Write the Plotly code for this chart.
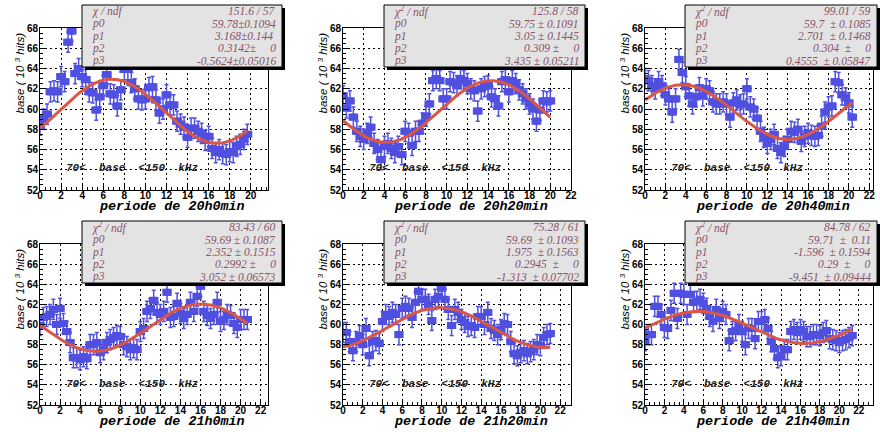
import numpy as np
import plotly.graph_objects as go

# ---------------- data ----------------
X_STEP = 1.0 / 3.0   # spacing of the time bins along "periode"

base_20h00 = [58.4, 59.0, 59.5, 61.7, 61.8, 61.7, 63.2, 62.7, 66.6, 67.7,
              63.5, 64.0, 63.2, 62.9, 61.7, 61.6, 59.9, 61.2, 62.3, 63.4,
              61.5, 61.4, 60.3, 61.9, 63.9, 63.9, 62.6, 62.0, 61.0, 60.9,
              61.0, 62.1, 62.2, 60.9, 59.6, 60.0, 61.4, 60.4, 60.4, 58.8,
              58.5, 58.2, 57.2, 58.1, 58.1, 57.8, 57.6, 56.9, 57.3, 56.1,
              55.7, 56.0, 55.6, 55.5, 55.8, 55.7, 56.3, 56.5, 57.0, 57.5]
base_20h20 = [61.3, 60.1, 60.8, 59.2, 57.8, 57.3, 57.0, 57.6, 58.2, 56.6,
              56.0, 55.0, 56.3, 56.6, 56.1, 55.7, 56.3, 55.5, 57.8, 57.6,
              56.4, 57.8, 57.8, 58.6, 59.3, 60.5, 62.8, 63.0, 62.8, 61.0,
              61.0, 62.7, 62.6, 62.3, 63.0, 62.8, 62.5, 62.0, 61.8, 59.8,
              62.0, 62.2, 62.3, 61.2, 61.0, 60.3, 62.7, 62.9, 61.7, 62.8,
              62.5, 61.9, 61.5, 61.0, 60.5, 60.0, 58.8, 59.9, 60.8, 60.7,
              60.8]
base_20h40 = [63.0, 62.8, 62.3, 62.0, 62.7, 62.3, 61.4, 61.0, 59.7, 61.0,
              64.9, 63.6, 62.2, 61.3, 60.5, 61.2, 62.1, 61.3, 62.0, 61.8,
              60.7, 60.5, 60.5, 60.7, 60.5, 59.2, 60.6, 60.9, 60.4, 60.5,
              62.0, 60.2, 60.0, 59.1, 57.8, 57.2, 56.6, 57.0, 57.5, 56.1,
              55.7, 56.3, 57.0, 57.8, 57.7, 58.0, 56.8, 57.3, 57.6, 57.4,
              57.3, 57.4, 58.3, 59.7, 60.2, 60.3, 62.7, 62.6, 61.4, 61.1,
              60.6, 59.2]
base_21h00 = [59.9, 60.7, 60.8, 61.0, 61.5, 60.0, 61.6, 60.1, 59.3, 58.2,
              56.7, 56.7, 56.5, 56.8, 56.6, 58.0, 58.0, 58.2, 57.2, 57.5,
              58.2, 58.5, 58.7, 58.9, 58.8, 58.0, 57.8, 57.5, 57.7, 57.5,
              59.3, 59.6, 61.3, 61.6, 62.4, 61.2, 61.0, 61.3, 63.2, 60.7,
              60.8, 62.1, 61.1, 60.6, 61.0, 62.2, 61.3, 62.8, 63.8, 61.3,
              60.9, 60.6, 61.0, 62.2, 60.3, 60.5, 61.0, 60.9, 60.1, 59.7,
              60.5, 60.5, 60.5]
base_21h20 = [59.2, 59.2, 58.3, 57.4, 58.3, 58.9, 58.0, 59.6, 56.9, 58.3,
              58.4, 58.1, 60.3, 61.0, 60.8, 61.2, 61.0, 59.0, 61.6, 61.8,
              61.6, 60.7, 62.2, 63.3, 62.5, 62.5, 62.0, 60.4, 62.5, 62.8,
              63.6, 62.5, 61.5, 59.9, 61.5, 61.2, 60.5, 60.2, 59.8, 59.9,
              59.7, 60.8, 60.8, 60.0, 61.2, 59.6, 59.4, 59.0, 59.5, 60.1,
              60.0, 58.3, 57.1, 56.9, 57.2, 57.4, 57.1, 57.3, 57.5, 58.0,
              57.9, 58.7, 59.0, 59.1]
base_21h40 = [58.4, 59.0, 59.0, 61.8, 61.8, 61.0, 59.7, 59.6, 61.4, 63.1,
              60.6, 63.1, 63.0, 61.0, 63.0, 62.2, 62.3, 62.5, 62.1, 61.6,
              60.8, 60.3, 61.5, 60.6, 61.3, 61.0, 58.4, 59.3, 59.4, 60.0,
              59.3, 58.0, 59.6, 59.6, 58.6, 60.3, 60.3, 60.5, 59.6, 58.3,
              57.6, 56.7, 56.9, 57.5, 57.5, 59.3, 59.5, 59.2, 59.5, 59.3,
              58.8, 58.8, 59.0, 59.0, 58.9, 59.2, 59.4, 58.6, 58.5, 58.4,
              58.2, 58.4, 58.5, 58.7, 58.9]
series = [base_20h00, base_20h20, base_20h40, base_21h00, base_21h20, base_21h40]
errors = [1.0, 1.0, 1.0, 1.0, 1.0, 1.0]

# fit p0 + p1*sin(p2*x + p3)
fit_params = [(59.78, 3.168, 0.3142, -0.5624),
              (59.75, 3.05, 0.309, 3.435),
              (59.7, 2.701, 0.304, 0.4555),
              (59.69, 2.352, 0.2992, 3.052),
              (59.69, 1.975, 0.2945, -1.313),
              (59.71, -1.596, 0.29, -9.451)]

periods = ["20h0min", "20h20min", "20h40min", "21h0min", "21h20min", "21h40min"]
chi2_txt = ["151.6 / 57", "125.8 / 58", "99.01 / 59", "83.43 / 60", "75.28 / 61", "84.78 / 62"]
p0_txt = ["59.78\u00b10.1094", "59.75 \u00b1 0.1091", "59.7 \u00a0\u00b1 0.1085",
          "59.69 \u00b1 0.1087", "59.69 \u00a0\u00b1 0.1093", "59.71 \u00a0\u00b1 \u00a00.11"]
p1_txt = ["3.168\u00b10.144 ", "3.05 \u00b1 0.1445", "2.701 \u00a0\u00b1 0.1468",
          "2.352 \u00b1 0.1515", "1.975 \u00a0\u00b1 0.1563", "-1.596 \u00a0\u00b1 0.1594"]
p2_txt = ["0.3142\u00b1 \u00a0\u00a0\u00a0 0", "0.309 \u00b1 \u00a0\u00a0\u00a0 0", "0.304 \u00a0\u00b1 \u00a0\u00a0\u00a0 0",
          "0.2992 \u00b1 \u00a0\u00a0\u00a0 0", "0.2945 \u00a0\u00b1 \u00a0\u00a0\u00a0 0", "0.29 \u00a0\u00b1 \u00a0\u00a0\u00a0 0"]
p3_txt = ["-0.5624\u00b10.05016", "3.435 \u00b1 0.05211", "0.4555 \u00a0\u00b1 0.05847",
          "3.052 \u00b1 0.06573", "-1.313 \u00a0\u00b1 0.07702", "-9.451 \u00a0\u00b1 0.09444"]
chi_label = ["\u03c7 / ndf"] + ["\u03c7<sup>2</sup> / ndf"] * 5

XMAX = [21.63, 22.0, 22.37, 22.73, 23.1, 23.47]

# ---------------- styling / layout ----------------
W, H = 880, 432
def fx(px): return px / W
def fy(py): return 1 - py / H

COLS = [(40, 268), (343, 571), (645, 873)]
ROWS = [(28, 190), (244, 405)]
BOXES_X = [(82, 282), (384, 585), (685, 877)]
BOXES_Y = [(5, 67), (221, 283)]
BLUE = "#5050e0"
RED = "#dc5646"
STATC = "#8a5468"

fig = go.Figure()
layout = dict(template="none", width=W, height=H, margin=dict(l=0, r=0, t=0, b=0, pad=0),
              autosize=False, paper_bgcolor="white", plot_bgcolor="white", showlegend=False)
annotations, shapes = [], []

tickfont = dict(family="Liberation Sans", size=10, color="black", weight="bold")
for p in range(6):
    r, c = divmod(p, 3)
    n = "" if p == 0 else str(p + 1)
    xl, xr = COLS[c]
    yt, yb = ROWS[r]
    vals = series[p]
    xs = np.arange(len(vals)) * X_STEP
    fig.add_trace(go.Scatter(
        x=xs, y=vals, mode="markers", xaxis="x" + n, yaxis="y" + n,
        marker=dict(symbol="square", size=7, color=BLUE, line=dict(width=0)),
        error_y=dict(type="constant", value=errors[p], color=BLUE, thickness=1.5, width=2),
        error_x=dict(type="constant", value=0.47, color=BLUE, thickness=7, width=0)))
    p0, p1, p2, p3 = fit_params[p]
    xf = np.linspace(0, xs[-1], 300)
    fig.add_trace(go.Scatter(x=xf, y=p0 + p1 * np.sin(p2 * xf + p3), mode="lines",
                             xaxis="x" + n, yaxis="y" + n,
                             line=dict(color=RED, width=3)))
    common = dict(showline=True, linecolor="black", linewidth=1, mirror=True,
                  ticks="inside", ticklen=6, tickcolor="black", tickwidth=1,
                  tickfont=tickfont, showgrid=True, gridcolor="black",
                  griddash="2px,3px", gridwidth=1, zeroline=False, automargin=False)
    layout["xaxis" + n] = dict(domain=[fx(xl), fx(xr)], range=[0, XMAX[p]],
                               anchor="y" + n, tick0=0, dtick=2, ticklabelstandoff=-4,
                               minor=dict(ticks="inside", ticklen=3, tickcolor="black",
                                          showgrid=False, dtick=0.5), **common)
    layout["yaxis" + n] = dict(domain=[fy(yb), fy(yt)], range=[52, 68],
                               anchor="x" + n, tick0=52, dtick=2, ticklabelstandoff=-1,
                               minor=dict(ticks="inside", ticklen=3, tickcolor="black",
                                          showgrid=False, dtick=0.5), **common)

    # axis titles
    annotations.append(dict(text="periode de " + periods[p], xref="paper", yref="paper",
                            x=fx(xr - 21), y=fy(yb + 16), xanchor="right", yanchor="middle",
                            showarrow=False,
                            font=dict(family="Liberation Mono", size=13.4, color="black",
                                      weight="bold", style="italic")))
    annotations.append(dict(text="base ( 10 <sup>3</sup> hits)", xref="paper", yref="paper",
                            x=fx(xl - 21), y=fy(yt + 3), xanchor="center", yanchor="top",
                            textangle=-90, showarrow=False,
                            font=dict(family="Liberation Sans", size=11.5, color="black",
                                      style="italic")))
    annotations.append(dict(text="70&lt;\u00a0\u00a0base\u00a0\u00a0&lt;150\u00a0\u00a0kHz",
                            xref="paper", yref="paper",
                            x=fx(xl + 24), y=fy(yt + 140), xanchor="left", yanchor="middle",
                            showarrow=False,
                            font=dict(family="Liberation Mono", size=11, color="#222222",
                                      weight="bold", style="italic")))
    # stat box
    bl, br = BOXES_X[c]
    bt, bb = BOXES_Y[r]
    shapes.append(dict(type="rect", xref="paper", yref="paper", layer="above",
                       x0=fx(bl + 3), x1=fx(min(br + 3, W)), y0=fy(bb + 3), y1=fy(bt + 3),
                       fillcolor="black", line=dict(width=0)))
    shapes.append(dict(type="rect", xref="paper", yref="paper", layer="above",
                       x0=fx(bl), x1=fx(br), y0=fy(bb), y1=fy(bt),
                       fillcolor="#e3e3e3", line=dict(color="black", width=1)))
    labels = [chi_label[p], "p0", "p1", "p2", "p3"]
    values = [chi2_txt[p], p0_txt[p], p1_txt[p], p2_txt[p], p3_txt[p]]
    sfont = dict(family="Liberation Serif", size=11.5, color=STATC, style="italic")
    for k in range(5):
        yc = bt + (bb - bt) * (k + 0.5) / 5
        annotations.append(dict(text=labels[k], xref="paper", yref="paper",
                                x=fx(bl + 8), y=fy(yc), xanchor="left", yanchor="middle",
                                showarrow=False, font=sfont))
        annotations.append(dict(text=values[k], xref="paper", yref="paper",
                                x=fx(br - 4), y=fy(yc), xanchor="right", yanchor="middle",
                                showarrow=False, font=sfont))

layout["annotations"] = annotations
layout["shapes"] = shapes
fig.update_layout(**layout)
fig.write_html("out.html", config={"displayModeBar": False, "staticPlot": True},
               post_script="document.body.style.margin='0px';"
                           "document.body.style.overflow='hidden';")
